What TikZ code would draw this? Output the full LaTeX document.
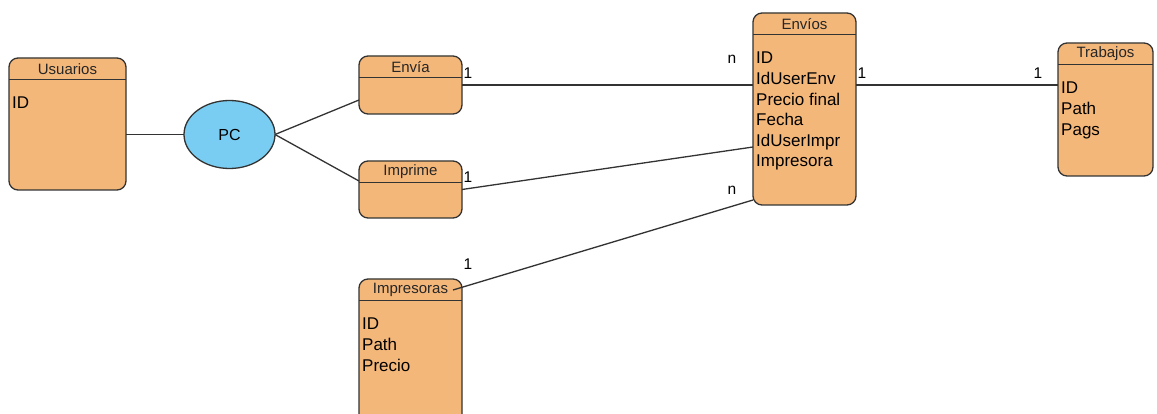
\documentclass[tikz,border=0pt]{standalone}
\usepackage{fontspec}
\setmainfont{Liberation Sans}
\usetikzlibrary{shapes.geometric, positioning}
\definecolor{entityfill}{RGB}{244,183,122}
\definecolor{relfill}{RGB}{122,205,242}
\definecolor{edgegray}{RGB}{51,51,51}

\tikzset{
  entity/.style={draw=edgegray, fill=entityfill, rounded corners=9pt, line width=1.3pt, outer sep=0pt},
  header/.style={draw=edgegray, line width=1.3pt},
  title/.style={font=\fontsize{15}{17}\selectfont, inner sep=0pt, text=black!85},
  attrs/.style={font=\fontsize{17}{20.6}\selectfont, align=left, anchor=north west, inner sep=0pt},
  card/.style={font=\fontsize{15.5}{17}\selectfont, inner sep=0pt},
  link/.style={draw=edgegray, line width=1.3pt}
}

\begin{document}
\begin{tikzpicture}[x=1pt, y=-1pt]
  \useasboundingbox (0,0) rectangle (1157,414);

  % entities
  \node[entity, minimum width=117, minimum height=132] (usuarios) at (67.5,124) {};
  \node[entity, minimum width=103, minimum height=58] (envia) at (410.5,85) {};
  \node[entity, minimum width=103, minimum height=57] (imprime) at (410.5,189.5) {};
  \node[entity, minimum width=103, minimum height=192] (envios) at (804.5,109) {};
  \node[entity, minimum width=95, minimum height=133] (trabajos) at (1105.5,109.5) {};
  \node[entity, minimum width=103, minimum height=180] (impresoras) at (410.5,369) {};

  % header lines
  \foreach \e in {usuarios, envia, imprime, envios, trabajos, impresoras}
    \draw[header] ([yshift=-21.5pt]\e.north west) -- ([yshift=-21.5pt]\e.north east);

  % titles
  \node[title] (tUsuarios) at ([yshift=-11pt]usuarios.north) {Usuarios};
  \node[title] (tEnvia) at ([yshift=-11pt]envia.north) {Envía};
  \node[title] (tImprime) at ([yshift=-11pt]imprime.north) {Imprime};
  \node[title] (tEnvios) at ([yshift=-11pt]envios.north) {Envíos};
  \node[title] (tTrabajos) at ([yshift=-11pt]trabajos.north) {Trabajos};
  \node[title] (tImpresoras) at ([yshift=-11pt]impresoras.north) {Impresoras};

  % attributes
  \node[attrs] (aUsuarios) at ([xshift=3pt,yshift=-39pt]usuarios.north west) {ID};
  \node[attrs] (aEnvios) at ([xshift=3pt,yshift=-39pt]envios.north west)
    {ID\\IdUserEnv\\Precio final\\Fecha\\IdUserImpr\\Impresora};
  \node[attrs] (aTrabajos) at ([xshift=3pt,yshift=-39pt]trabajos.north west) {ID\\Path\\Pags};
  \node[attrs] (aImpresoras) at ([xshift=3pt,yshift=-39pt]impresoras.north west) {ID\\Path\\Precio};

  % relationship
  \node[ellipse, draw=edgegray, fill=relfill, line width=1.3pt, outer sep=0pt,
        minimum width=91, minimum height=68, font=\fontsize{16}{18}\selectfont] (pc) at (229.5,134.5) {PC};

  % connectors
  \draw[link] (usuarios.east |- pc.west) -- (pc.west);
  \draw[link] (pc.east) -- ([yshift=-15pt]envia.west);
  \draw[link] (pc.east) -- ([yshift=8.5pt]imprime.west);
  \draw[link] (envia.east) -- (envia.east -| envios.west);
  \draw[link] (imprime.east) -- ([yshift=-38pt]envios.west);
  \draw[link] ([xshift=-9pt,yshift=-11pt]impresoras.north east) -- ([yshift=5pt]envios.south west);
  \draw[link] (envia.east -| envios.east) -- (envia.east -| trabajos.west);

  % cardinalities
  \node[card] (c1) at (468,73) {1};
  \node[card] (c2) at (732,59) {n};
  \node[card] (c3) at (468,177) {1};
  \node[card] (c4) at (468,264) {1};
  \node[card] (c5) at (732,190) {n};
  \node[card] (c6) at (862,73) {1};
  \node[card] (c7) at (1038,73) {1};
\end{tikzpicture}
\end{document}
